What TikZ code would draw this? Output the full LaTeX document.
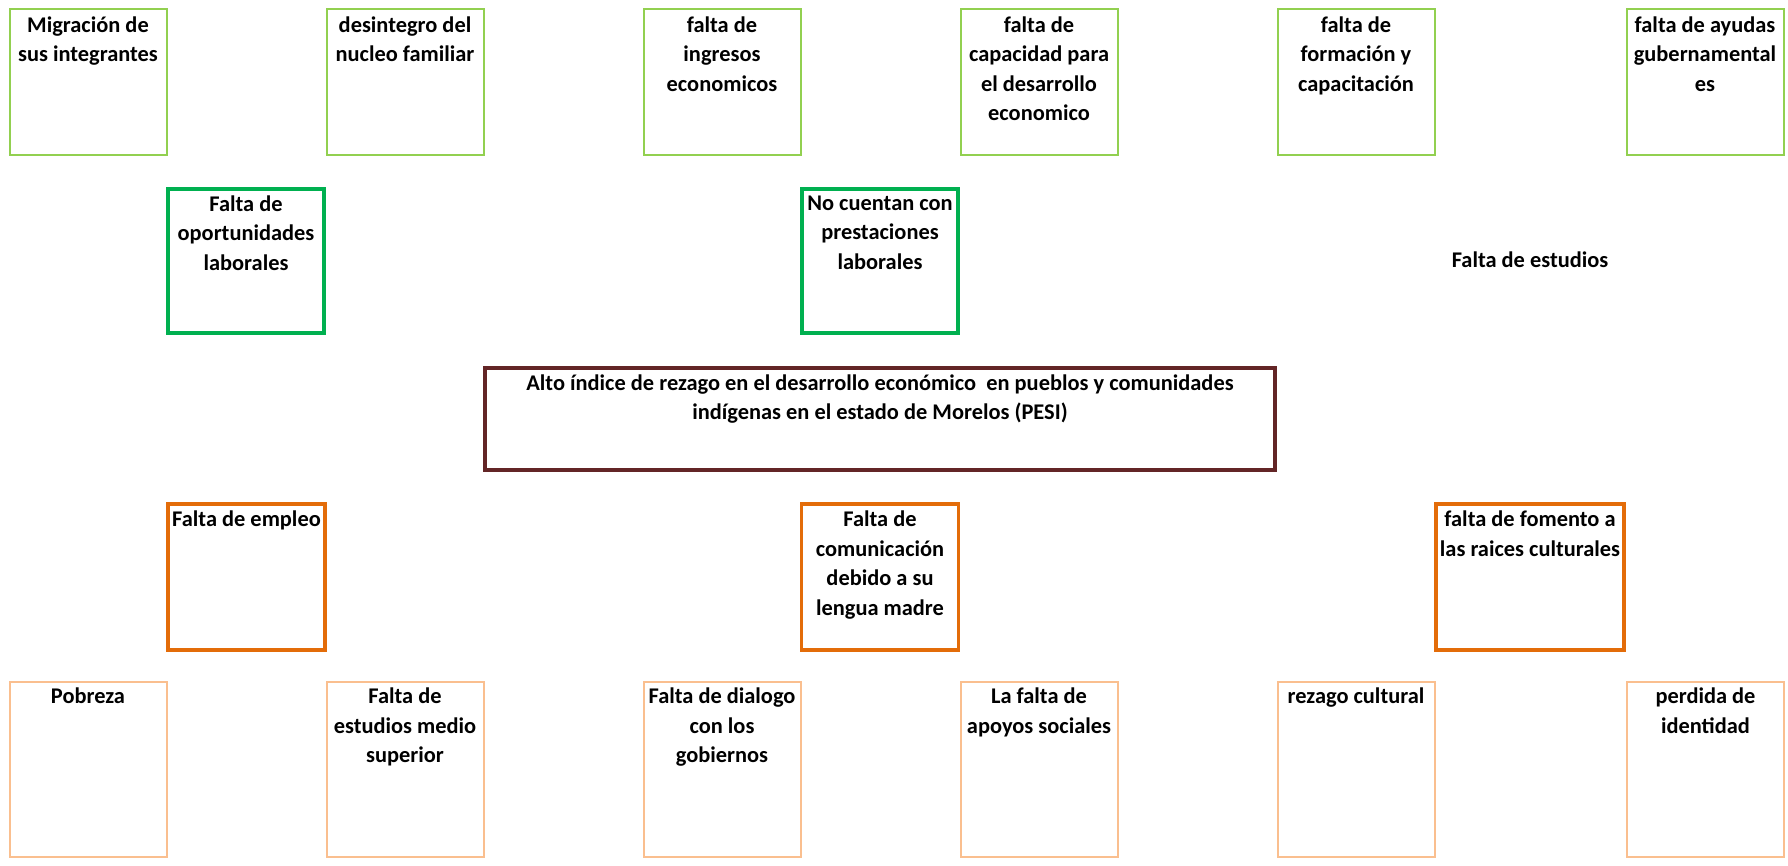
\documentclass[tikz,border=0pt]{standalone}
\usepackage{fontspec}
\setmainfont{Carlito}
\definecolor{lgreen}{RGB}{146,208,80}
\definecolor{dgreen}{RGB}{0,176,80}
\definecolor{brownc}{RGB}{99,37,38}
\definecolor{orangec}{RGB}{227,108,9}
\definecolor{lorange}{RGB}{250,191,143}
\begin{document}
\begin{tikzpicture}[x=1pt,y=-1pt,
  boxbase/.style={draw, rectangle, inner sep=0pt, minimum width=157pt},
  topbox/.style={boxbase, draw=lgreen, line width=2pt, minimum height=146pt},
  midbox/.style={boxbase, draw=dgreen, line width=4pt, minimum width=156pt, minimum height=144pt},
  mainbox/.style={boxbase, draw=brownc, line width=3.5pt, minimum width=790pt, minimum height=102pt},
  obox/.style={boxbase, draw=orangec, line width=3.5pt, minimum height=146pt},
  lobox/.style={boxbase, draw=lorange, line width=2pt, minimum height=175pt},
  txt/.style={anchor=north, align=center, inner sep=0pt, font=\bfseries\fontsize{22.4}{29.5}\selectfont}
]
\useasboundingbox (0,0) rectangle (1788,866);

% top row
\node[topbox] (t1) at (88,82) {};
\node[topbox] (t2) at (405,82) {};
\node[topbox] (t3) at (722,82) {};
\node[topbox] (t4) at (1039,82) {};
\node[topbox] (t5) at (1356,82) {};
\node[topbox] (t6) at (1705,82) {};
\node[txt] (t1t) at ([yshift=-8.5pt]t1.north) {Migración de\\sus integrantes};
\node[txt] (t2t) at ([yshift=-8.5pt]t2.north) {desintegro del\\nucleo familiar};
\node[txt] (t3t) at ([yshift=-8.5pt]t3.north) {falta de\\ingresos\\economicos};
\node[txt] (t4t) at ([yshift=-8.5pt]t4.north) {falta de\\capacidad para\\el desarrollo\\economico};
\node[txt] (t5t) at ([yshift=-8.5pt]t5.north) {falta de\\formación y\\capacitación};
\node[txt] (t6t) at ([yshift=-8.5pt]t6.north) {falta de ayudas\\gubernamental\\es};

% second row
\node[midbox] (g1) at (246,261) {};
\node[midbox] (g2) at (880,261) {};
\node[txt] (g1t) at ([yshift=-8.5pt]g1.north) {Falta de\\oportunidades\\laborales};
\node[txt] (g2t) at ([yshift=-8.5pt]g2.north) {No cuentan con\\prestaciones\\laborales};
\node[anchor=base, inner sep=0pt, font=\bfseries\fontsize{22.4}{29.5}\selectfont] (fe) at (1530,268) {Falta de estudios};

% main
\node[mainbox] (main) at (880,419) {};
\node[txt] (maint) at ([yshift=-8pt]main.north) {Alto índice de rezago en el desarrollo económico\ \ en pueblos y comunidades\\indígenas en el estado de Morelos (PESI)};

% third row
\node[obox] (o1) at (246.5,577) {};
\node[obox] (o2) at (880,577) {};
\node[obox, minimum width=188pt] (o3) at (1530,577) {};
\node[txt] (o1t) at ([yshift=-8.5pt]o1.north) {Falta de empleo};
\node[txt] (o2t) at ([yshift=-8.5pt]o2.north) {Falta de\\comunicación\\debido a su\\lengua madre};
\node[txt] (o3t) at ([yshift=-8.5pt]o3.north) {falta de fomento a\\las raices culturales};

% bottom row
\node[lobox] (p1) at (88,769.5) {};
\node[lobox] (p2) at (405,769.5) {};
\node[lobox] (p3) at (722,769.5) {};
\node[lobox] (p4) at (1039,769.5) {};
\node[lobox] (p5) at (1356,769.5) {};
\node[lobox] (p6) at (1705.5,769.5) {};
\node[txt] (p1t) at ([yshift=-7pt]p1.north) {Pobreza};
\node[txt] (p2t) at ([yshift=-7pt]p2.north) {Falta de\\estudios medio\\superior};
\node[txt] (p3t) at ([yshift=-7pt]p3.north) {Falta de dialogo\\con los\\gobiernos};
\node[txt] (p4t) at ([yshift=-7pt]p4.north) {La falta de\\apoyos sociales};
\node[txt] (p5t) at ([yshift=-7pt]p5.north) {rezago cultural};
\node[txt] (p6t) at ([yshift=-7pt]p6.north) {perdida de\\identidad};
\end{tikzpicture}
\end{document}
